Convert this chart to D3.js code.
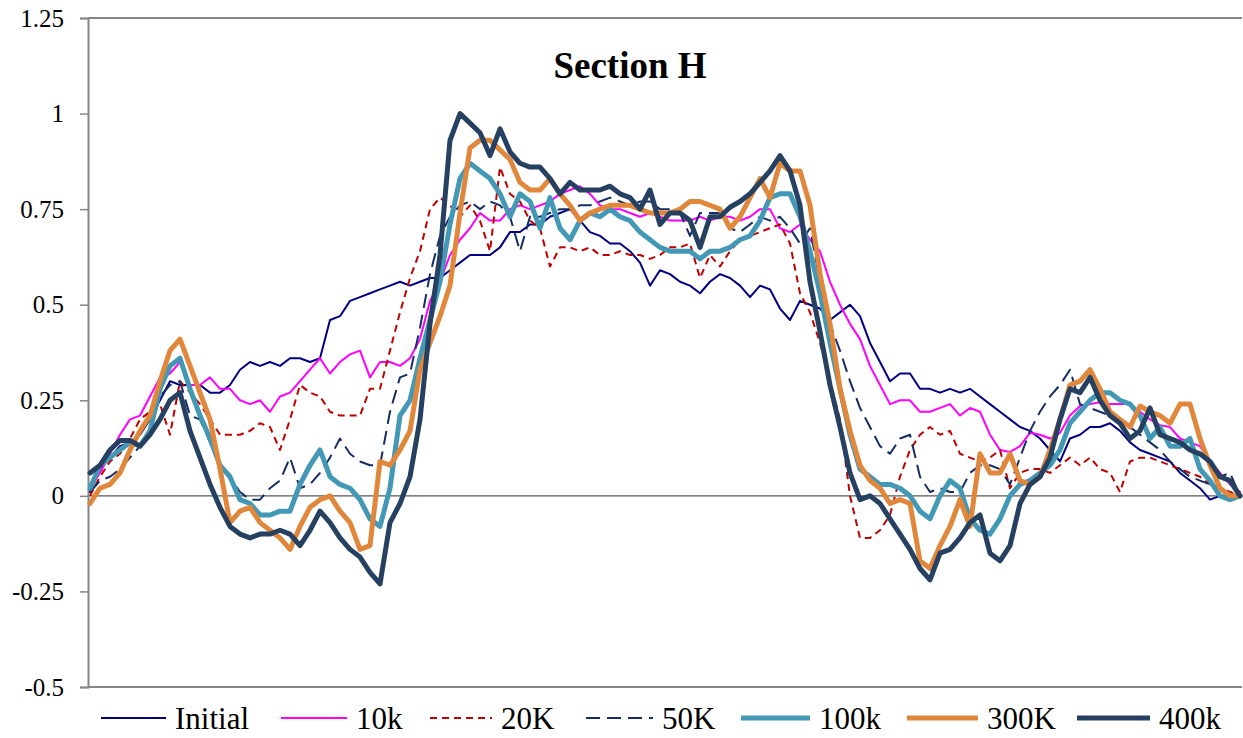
<!DOCTYPE html>
<html>
<head>
<meta charset="utf-8">
<script src="https://cdn.jsdelivr.net/npm/d3@7"></script>
<style>
  html, body { margin: 0; padding: 0; background: #ffffff; }
  svg { display: block; font-family: "Liberation Serif", "Times New Roman", serif; }
</style>
</head>
<body>
<svg id="chart" width="1243" height="738"></svg>
<script>
// ---- data -------------------------------------------------------------
const tickValues = [-0.5, -0.25, 0, 0.25, 0.5, 0.75, 1, 1.25];
const tickLabels = ["-0.5", "-0.25", "0", "0.25", "0.5", "0.75", "1", "1.25"];
const seriesNames = ["Initial", "10k", "20K", "50K", "100k", "300K", "400k"];
const chartTitle = "Section H";

// measurement stations along the section (116 equally spaced points)
const station = d3.range(0, 116);

const initial = [
  0.01,0.07,0.10,0.13,0.14,0.16,0.20,0.25,0.30,0.29,
  0.29,0.29,0.27,0.27,0.29,0.33,0.35,0.34,0.35,0.34,
  0.36,0.36,0.35,0.36,0.46,0.47,0.51,0.52,0.53,0.54,
  0.55,0.56,0.55,0.56,0.57,0.57,0.59,0.61,0.63,0.63,
  0.63,0.65,0.69,0.69,0.71,0.71,0.73,0.74,0.75,0.72,
  0.69,0.68,0.66,0.66,0.64,0.61,0.55,0.59,0.58,0.56,
  0.55,0.53,0.56,0.58,0.57,0.55,0.52,0.55,0.54,0.49,
  0.46,0.51,0.50,0.49,0.46,0.48,0.50,0.47,0.40,0.35,
  0.30,0.32,0.32,0.28,0.28,0.27,0.28,0.27,0.28,0.26,
  0.24,0.22,0.20,0.18,0.17,0.15,0.12,0.09,0.15,0.16,
  0.18,0.18,0.19,0.17,0.14,0.12,0.11,0.10,0.09,0.06,
  0.04,0.02,-0.01,0.00,0.00,0.00
];
const k10 = [
  0.02,0.06,0.11,0.16,0.20,0.21,0.26,0.31,0.32,0.35,
  0.29,0.29,0.31,0.28,0.28,0.25,0.24,0.25,0.22,0.26,
  0.27,0.30,0.33,0.36,0.32,0.35,0.37,0.38,0.31,0.35,
  0.35,0.34,0.36,0.41,0.51,0.56,0.63,0.67,0.70,0.74,
  0.72,0.72,0.75,0.76,0.75,0.76,0.77,0.79,0.80,0.81,
  0.79,0.76,0.75,0.75,0.74,0.73,0.74,0.73,0.72,0.72,
  0.72,0.73,0.72,0.73,0.73,0.72,0.73,0.75,0.75,0.70,
  0.69,0.71,0.67,0.64,0.56,0.50,0.45,0.41,0.34,0.29,
  0.24,0.25,0.25,0.22,0.22,0.23,0.24,0.21,0.23,0.22,
  0.16,0.12,0.115,0.13,0.165,0.16,0.15,0.165,0.21,0.235,
  0.24,0.245,0.24,0.24,0.24,0.22,0.20,0.185,0.18,0.15,
  0.14,0.13,0.09,0.06,0.03,0.01
];
const k20 = [
  0.00,0.05,0.09,0.11,0.15,0.20,0.22,0.24,0.16,0.30,
  0.27,0.24,0.20,0.16,0.16,0.16,0.17,0.19,0.18,0.12,
  0.20,0.29,0.27,0.26,0.22,0.21,0.21,0.21,0.28,0.28,
  0.38,0.48,0.57,0.64,0.75,0.78,0.76,0.73,0.76,0.72,
  0.64,0.86,0.79,0.77,0.72,0.70,0.60,0.65,0.65,0.64,
  0.65,0.63,0.63,0.64,0.63,0.63,0.62,0.63,0.65,0.65,
  0.66,0.57,0.63,0.60,0.64,0.67,0.68,0.69,0.70,0.71,
  0.66,0.53,0.48,0.40,0.30,0.20,0.00,-0.11,-0.11,-0.09,
  -0.05,0.05,0.12,0.16,0.18,0.16,0.17,0.11,0.10,0.09,
  0.10,0.12,0.02,0.06,0.07,0.07,0.06,0.08,0.10,0.08,
  0.10,0.07,0.06,0.01,0.09,0.10,0.10,0.09,0.08,0.07,
  0.06,0.05,0.03,0.02,0.01,0.00
];
const k50 = [
  0.01,0.04,0.05,0.07,0.10,0.13,0.17,0.26,0.29,0.30,
  0.21,0.20,0.14,0.08,0.05,0.01,-0.01,-0.01,0.02,0.04,
  0.10,0.02,0.03,0.06,0.10,0.15,0.11,0.09,0.08,0.08,
  0.22,0.31,0.32,0.44,0.58,0.68,0.73,0.76,0.77,0.75,
  0.77,0.76,0.73,0.64,0.73,0.73,0.74,0.75,0.75,0.76,
  0.76,0.77,0.78,0.77,0.76,0.77,0.77,0.75,0.75,0.74,
  0.68,0.74,0.74,0.74,0.70,0.69,0.71,0.73,0.72,0.73,
  0.70,0.66,0.70,0.56,0.45,0.38,0.30,0.23,0.18,0.13,
  0.11,0.15,0.16,0.05,0.01,0.02,0.01,0.01,0.06,0.08,
  0.08,0.07,0.03,0.10,0.17,0.22,0.26,0.29,0.33,0.24,
  0.23,0.22,0.21,0.20,0.18,0.16,0.14,0.12,0.09,0.07,
  0.05,0.04,0.03,0.05,0.06,0.00
];
const k100 = [
  0.02,0.08,0.10,0.12,0.14,0.13,0.17,0.28,0.34,0.36,
  0.28,0.21,0.15,0.08,0.05,-0.01,-0.02,-0.05,-0.05,-0.04,
  -0.04,0.03,0.08,0.12,0.05,0.03,0.02,-0.01,-0.06,-0.08,
  0.02,0.21,0.25,0.36,0.46,0.56,0.71,0.83,0.87,0.85,
  0.83,0.79,0.73,0.79,0.77,0.70,0.78,0.70,0.67,0.72,
  0.74,0.73,0.75,0.73,0.72,0.69,0.67,0.65,0.64,0.64,
  0.64,0.62,0.64,0.64,0.65,0.67,0.68,0.72,0.78,0.79,
  0.79,0.73,0.64,0.53,0.40,0.28,0.16,0.07,0.05,0.03,
  0.03,0.02,0.00,-0.04,-0.06,0.00,0.04,0.02,-0.06,-0.09,
  -0.10,-0.06,0.00,0.03,0.04,0.06,0.08,0.12,0.19,0.22,
  0.25,0.27,0.27,0.25,0.24,0.21,0.15,0.18,0.13,0.13,
  0.15,0.07,0.04,0.00,-0.01,0.00
];
const k300 = [
  -0.02,0.02,0.03,0.06,0.12,0.17,0.21,0.30,0.38,0.41,
  0.34,0.27,0.20,0.07,-0.07,-0.04,-0.03,-0.07,-0.09,-0.11,
  -0.14,-0.08,-0.03,-0.01,0.00,-0.04,-0.07,-0.14,-0.13,0.09,
  0.08,0.12,0.17,0.33,0.40,0.47,0.55,0.74,0.91,0.93,
  0.93,0.905,0.88,0.82,0.80,0.80,0.83,0.79,0.76,0.72,
  0.74,0.75,0.76,0.76,0.76,0.75,0.74,0.74,0.74,0.75,
  0.77,0.77,0.76,0.75,0.70,0.73,0.78,0.83,0.78,0.87,
  0.85,0.85,0.76,0.58,0.45,0.28,0.17,0.08,0.04,0.02,
  -0.02,-0.01,-0.02,-0.17,-0.19,-0.13,-0.08,-0.01,-0.08,0.11,
  0.06,0.06,0.11,0.04,0.03,0.05,0.12,0.20,0.29,0.30,
  0.33,0.28,0.22,0.20,0.18,0.235,0.22,0.21,0.19,0.24,
  0.24,0.15,0.08,0.02,0.00,0.00
];
const k400 = [
  0.06,0.08,0.12,0.145,0.145,0.13,0.16,0.20,0.25,0.27,
  0.17,0.10,0.03,-0.03,-0.08,-0.10,-0.11,-0.10,-0.10,-0.09,
  -0.10,-0.13,-0.09,-0.04,-0.07,-0.11,-0.14,-0.16,-0.20,-0.23,
  -0.07,-0.02,0.05,0.20,0.45,0.63,0.93,1.00,0.975,0.95,
  0.89,0.96,0.90,0.87,0.86,0.86,0.83,0.79,0.82,0.80,
  0.80,0.80,0.81,0.79,0.78,0.75,0.80,0.71,0.74,0.74,
  0.72,0.65,0.73,0.73,0.755,0.77,0.79,0.82,0.85,0.89,
  0.85,0.76,0.56,0.43,0.29,0.18,0.06,-0.01,0.00,-0.02,
  -0.06,-0.10,-0.14,-0.19,-0.22,-0.15,-0.14,-0.11,-0.07,-0.05,
  -0.15,-0.17,-0.13,-0.02,0.03,0.05,0.10,0.20,0.28,0.27,
  0.31,0.25,0.21,0.19,0.15,0.17,0.23,0.16,0.15,0.14,
  0.12,0.11,0.09,0.05,0.04,0.00
];

// ---- styling per series -----------------------------------------------
const seriesStyle = [
  { values: initial, color: "#000080", width: 2,   dash: null },
  { values: k10,     color: "#ff00ff", width: 2,   dash: null },
  { values: k20,     color: "#c00000", width: 2,   dash: "7,5" },
  { values: k50,     color: "#142d64", width: 2,   dash: "14,7" },
  { values: k100,    color: "#4298b5", width: 5,   dash: null },
  { values: k300,    color: "#e0873b", width: 5,   dash: null },
  { values: k400,    color: "#254061", width: 5,   dash: null }
];

// ---- layout -----------------------------------------------------------
const svg = d3.select("#chart");
const plot = { left: 88, right: 1242, top: 18, bottom: 687 };

const x = d3.scaleLinear().domain([0, 115]).range([90, 1240]);
const y = d3.scaleLinear().domain([-0.5, 1.25]).range([plot.bottom, plot.top]);

// plot frame (top and bottom edges)
svg.append("line")
  .attr("x1", plot.left).attr("x2", plot.right)
  .attr("y1", plot.top).attr("y2", plot.top)
  .attr("stroke", "#868686").attr("stroke-width", 2);
svg.append("line")
  .attr("x1", plot.left).attr("x2", plot.right)
  .attr("y1", plot.bottom).attr("y2", plot.bottom)
  .attr("stroke", "#868686").attr("stroke-width", 2);

// zero line
svg.append("line")
  .attr("x1", plot.left).attr("x2", plot.right)
  .attr("y1", y(0)).attr("y2", y(0))
  .attr("stroke", "#595959").attr("stroke-width", 1.2);

// value axis
const yAxis = d3.axisLeft(y)
  .tickValues(tickValues)
  .tickFormat((d, i) => tickLabels[i])
  .tickSize(8)
  .tickPadding(16);

const gy = svg.append("g")
  .attr("transform", `translate(${plot.left},0)`)
  .call(yAxis);
gy.select(".domain").attr("stroke", "#868686").attr("stroke-width", 2);
gy.selectAll(".tick line").attr("stroke", "#868686").attr("stroke-width", 1.5);
gy.selectAll(".tick text")
  .attr("fill", "#000")
  .style("font-family", "'Liberation Serif', 'Times New Roman', serif")
  .style("font-size", "25px");

// series lines
const line = d3.line()
  .x((d, i) => x(station[i]))
  .y(d => y(d));

const gLines = svg.append("g");
seriesStyle.forEach(s => {
  gLines.append("path")
    .datum(s.values)
    .attr("fill", "none")
    .attr("stroke", s.color)
    .attr("stroke-width", s.width)
    .attr("stroke-linejoin", "round")
    .attr("stroke-linecap", s.dash ? "butt" : "round")
    .attr("stroke-dasharray", s.dash)
    .attr("d", line);
});

// title
svg.append("text")
  .attr("x", 630).attr("y", 78)
  .attr("text-anchor", "middle")
  .style("font-weight", "bold")
  .style("font-size", "37px")
  .text(chartTitle);

// legend
const legendStart = [101, 281, 430, 586, 741, 907, 1077];
const legendLen = [65, 66, 62, 67, 69, 71, 73];
const legendY = 718;
const gLeg = svg.append("g");
seriesStyle.forEach((s, i) => {
  const x0 = legendStart[i];
  gLeg.append("line")
    .attr("x1", x0).attr("x2", x0 + legendLen[i])
    .attr("y1", legendY).attr("y2", legendY)
    .attr("stroke", s.color)
    .attr("stroke-width", s.width)
    .attr("stroke-dasharray", s.dash);
  gLeg.append("text")
    .attr("x", x0 + legendLen[i] + 9)
    .attr("y", legendY + 11)
    .style("font-size", "31px")
    .text(seriesNames[i]);
});
</script>
</body>
</html>
